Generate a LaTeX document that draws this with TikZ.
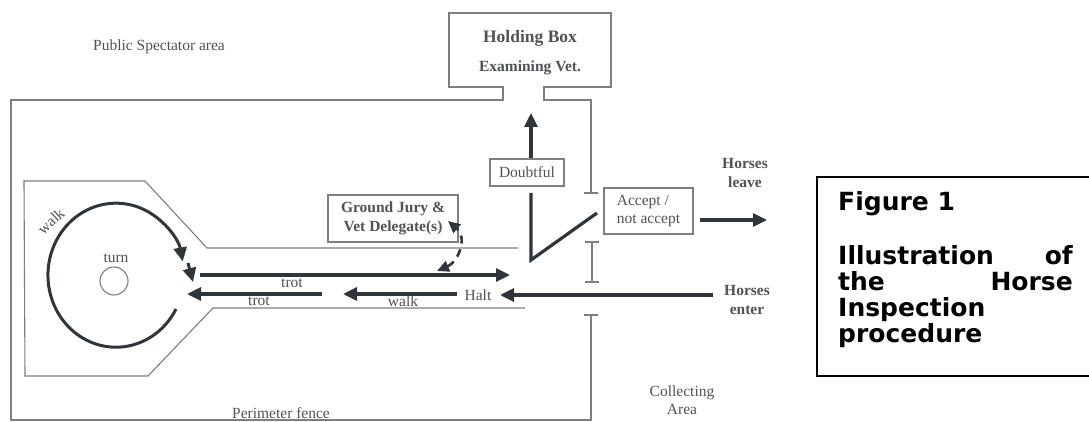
\documentclass[tikz,border=0pt]{standalone}
\usepackage{fontspec}
\setmainfont{Liberation Serif}
\newfontfamily\figfont{DejaVu Sans}
\usetikzlibrary{arrows.meta}
\definecolor{fenceC}{HTML}{7A7F82}
\definecolor{arrowC}{HTML}{2E363C}
\definecolor{textC}{HTML}{4F5356}
\begin{document}
\begin{tikzpicture}[x=1pt,y=-1pt,
  fence/.style={draw=fenceC, line width=1.1pt},
  flow/.style={draw=arrowC, line width=3.2pt, -{Triangle[length=14pt,width=13pt]}},
  lbl/.style={text=textC, font=\fontsize{15.5}{18}\selectfont, inner sep=0pt},
  blbl/.style={text=textC, font=\fontsize{15.5}{18.5}\selectfont\bfseries, inner sep=0pt},
  fbox/.style={draw=fenceC, line width=1.1pt, rectangle, inner sep=0pt},
  figtxt/.style={font=\figfont\bfseries\fontsize{25}{26}\selectfont, inner sep=0pt, anchor=base west},
]
\useasboundingbox (0,0) rectangle (1089,422);
\fill[white] (0,0) rectangle (1089,422);

% ---------- perimeter fence and holding box ----------
\draw[fence] (591,193) -- (591,100) -- (544,100) -- (544,87) -- (611,87) -- (611,13)
  -- (449,13) -- (449,87) -- (503,87) -- (503,100) -- (11,100) -- (11,420) -- (591,420) -- (591,315);
\draw[fence] (584,193) -- (598,193);
\draw[fence] (584,315) -- (598,315);
\draw[fence] (592,242) -- (592,282);
\draw[fence] (585,242) -- (599,242);
\draw[fence] (585,282) -- (599,282);

% ---------- paddock ----------
\draw[fence] (518,248) -- (207,248) -- (145,181) -- (24,181) -- (25,376) -- (148,376) -- (213,308) -- (525,308);

% ---------- texts ----------
\node[lbl] (spect) at (159,47) {Public Spectator area};
\node[blbl, font=\fontsize{17.5}{20}\selectfont\bfseries] (hold) at (530,38) {Holding Box};
\node[blbl] (vet) at (530,68) {Examining Vet.};
\node[lbl] (perim) at (281,413) {Perimeter fence};
\node[lbl, align=center] (collect) at (682,400) {Collecting\\Area};
\node[blbl, align=center] (leave) at (745,173) {Horses\\leave};
\node[blbl, align=center] (enter) at (747,300) {Horses\\enter};

\node[fbox, minimum width=74pt, minimum height=27pt, lbl] (doubt) at (527,172.5) {Doubtful};
\node[fbox, minimum width=130pt, minimum height=47pt, blbl, align=center] (jury) at (393,218.5) {Ground Jury \&\\Vet Delegate(s)};
\node[fbox, minimum width=89pt, minimum height=46pt, lbl, align=left] (accept) at (648.5,211) {Accept /\\not accept};

\node[lbl] (turn) at (116,258) {turn};
\node[draw=fenceC, line width=1.1pt, circle, minimum size=28pt, inner sep=0pt] (turnc) at (114,281) {};
\node[lbl, rotate=42] (walkc) at (51,221) {walk};
\node[lbl] (trot1) at (292,283) {trot};
\node[lbl] (trot2) at (259,301) {trot};
\node[lbl] (walk2) at (403,301) {walk};
\node[lbl] (halt) at (478,295) {Halt};

% ---------- coordinates ----------
\coordinate (t1s) at (200,275);
\coordinate (t1e) at (510,275);
\coordinate (t2s) at (322,294);
\coordinate (t2e) at (187,294);
\coordinate (w2s) at (457,294);
\coordinate (w2e) at (343,294);
\coordinate (ens) at (713,295);
\coordinate (ene) at (500,295);
\coordinate (lvs) at (700,220);
\coordinate (lve) at (767,220);
\coordinate (upe) at (531,113);
\coordinate (vtop) at (531,193);
\coordinate (vbot) at (531,260);
\coordinate (vend) at (597,213);
\coordinate (ds) at (437,271);
\coordinate (de) at (448,221);
\coordinate (cst) at (176,309);
\coordinate (c2s) at (188,263);
\coordinate (c2e) at (193,282);

% ---------- flows ----------
\draw[flow] (t1s) -- (t1e);
\draw[flow] (t2s) -- (t2e);
\draw[flow] (w2s) -- (w2e);
\draw[flow] (ens) -- (ene);
\draw[flow] (lvs) -- (lve);
\draw[flow] (doubt.north -| upe) -- (upe);
\draw[draw=arrowC, line width=3.2pt] (vtop) -- (vbot) -- (vend);
\draw[draw=arrowC, line width=2.6pt, dash pattern=on 8pt off 6pt,
  {Triangle[length=12pt,width=11pt]}-{Triangle[length=12pt,width=11pt]}]
  (ds) .. controls (458,262) and (468,238) .. (de);
\draw[flow, line width=3pt] (cst) arc[start angle=28, end angle=349, x radius=68, y radius=72];
\draw[flow, line width=3pt] (c2s) -- (c2e);

% ---------- figure caption ----------
\draw[line width=1.4pt] (1095,177) -- (817,177) -- (817,376) -- (1095,376);
\node[figtxt] (fig) at (838,211) {Figure 1};
\node[figtxt] (ill) at (838,264) {Illustration};
\node[figtxt, anchor=base east] (of) at (1073,264) {of};
\node[figtxt] (the) at (838,290) {the};
\node[figtxt, anchor=base east] (horse) at (1073,290) {Horse};
\node[figtxt] (insp) at (838,316) {Inspection};
\node[figtxt] (proc) at (838,342) {procedure};
\end{tikzpicture}
\end{document}
